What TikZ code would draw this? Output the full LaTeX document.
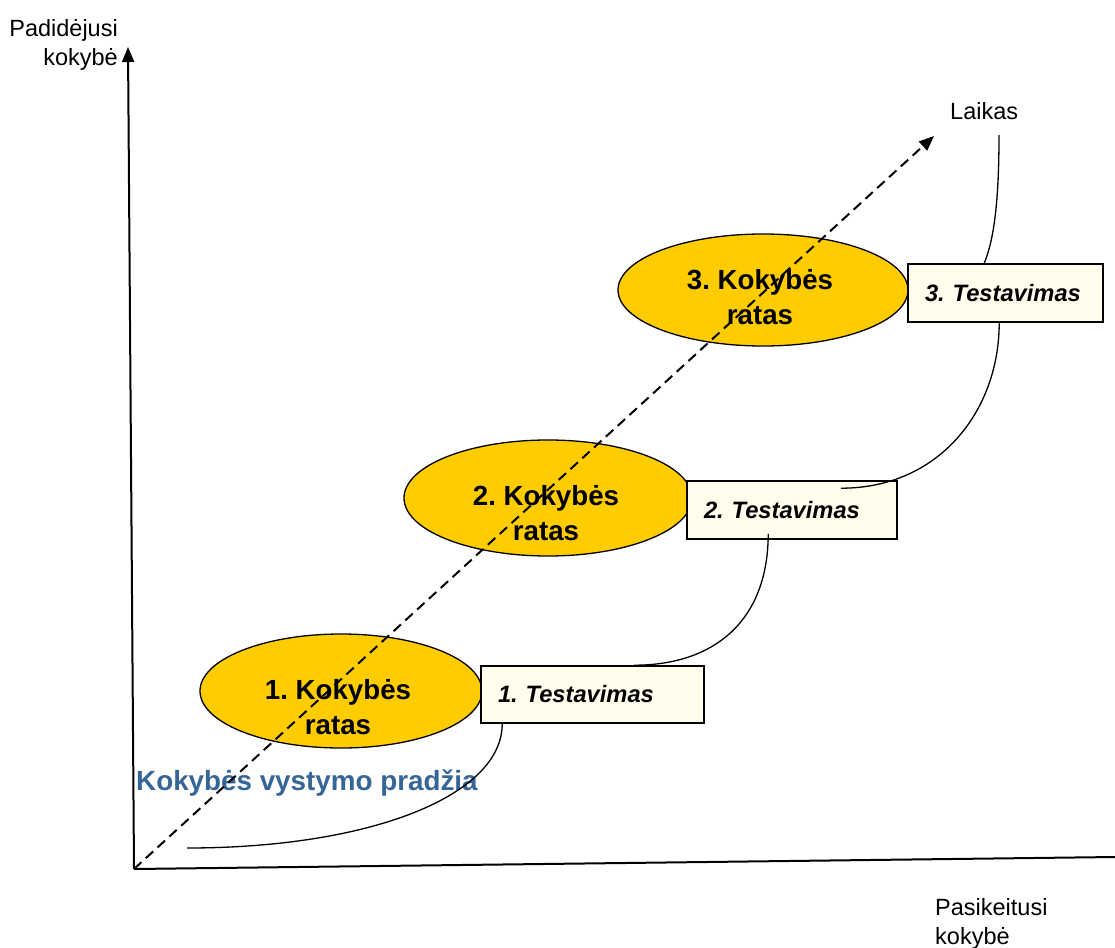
\documentclass[tikz,border=0pt]{standalone}
\usepackage{fontspec}
\setmainfont{Liberation Sans}
\usetikzlibrary{arrows.meta,shapes.geometric,calc}

\definecolor{ratasfill}{RGB}{255,204,0}
\definecolor{boxfill}{RGB}{255,253,235}
\definecolor{titleblue}{RGB}{54,101,152}

\tikzset{
  axisline/.style={line width=2, line cap=butt},
  ratas/.style={ellipse, draw=black, line width=1.3, fill=ratasfill, inner sep=0},
  ratastext/.style={font=\fontsize{27.7}{35}\selectfont\bfseries, align=center, inner sep=0, anchor=north},
  testbox/.style={rectangle, draw=black, line width=1.6, fill=boxfill,
    font=\fontsize{23.7}{28}\selectfont\bfseries\itshape, align=left,
    inner xsep=17, inner ysep=0},
  link/.style={line width=1.3},
  timeline/.style={line width=2, dash pattern=on 10 off 6, -{Triangle[length=15,width=12]}},
  lbl/.style={font=\fontsize{23.5}{29}\selectfont, inner sep=0},
  title/.style={font=\fontsize{27.8}{34}\selectfont\bfseries, text=titleblue, inner sep=0},
}

\begin{document}
\frenchspacing
\begin{tikzpicture}[x=1pt, y=-1pt]
  \useasboundingbox (0,0) rectangle (1115,947);

  % axes
  \coordinate (O) at (134,869);
  \coordinate (ytop) at (128,47);
  \coordinate (xend) at (1115,857);
  \draw[axisline, -{Triangle[length=15,width=12]}] (O) -- (ytop);
  \draw[axisline] (O) -- (xend);

  % axis labels
  \node[lbl, align=right, anchor=north east] (ylabel) at (118,19) {Padidėjusi\\kokybė};
  \node[lbl, align=left, anchor=north west] (xlabel) at (935,898) {Pasikeitusi\\kokybė};
  \node[lbl, anchor=base west] (laikas) at (950,120) {Laikas};

  % quality circles
  \node[ratas, minimum width=282, minimum height=114] (e1) at (341,691) {};
  \node[ratas, minimum width=288, minimum height=116] (e2) at (548,498) {};
  \node[ratas, minimum width=290, minimum height=112] (e3) at (763,290) {};
  \node[ratastext] (e1t) at (338,679) {1. Kokybės\\ratas};
  \node[ratastext] (e2t) at (546,485) {2. Kokybės\\ratas};
  \node[ratastext] (e3t) at (760,269) {3. Kokybės\\ratas};

  % testing boxes
  \node[testbox, minimum width=223, minimum height=57, text width=189] (b1) at (592.5,694.5) {1. Testavimas};
  \node[testbox, minimum width=210, minimum height=58, text width=176] (b2) at (792,510) {2. Testavimas};
  \node[testbox, minimum width=195, minimum height=58, text width=161] (b3) at (1005.5,293) {3. Testavimas};

  % start label
  \node[title, anchor=base west] (start) at (136,790) {Kokybės vystymo pradžia};

  % links between the stages
  \coordinate (cstart) at (187,848);
  \coordinate (ctime) at (999,135);
  \draw[link] (cstart) .. controls +(183,0) and +(0,72) .. ($(b1.south west)+(22,0)$);
  \draw[link] ($(b1.north west)+(154,0)$) .. controls +(80,0) and +(0,87) .. ($(b2.south west)+(82,-6)$);
  \draw[link] ($(b2.north west)+(155,8)$) .. controls +(98,0) and +(0,88) .. ($(b3.south west)+(92,0)$);
  \draw[link] ($(b3.north west)+(77,0)$) .. controls +(10,-24) and +(0,65) .. (ctime);

  % time axis
  \coordinate (tend) at (934,136);
  \draw[timeline] (O) -- (tend);
\end{tikzpicture}
\end{document}
